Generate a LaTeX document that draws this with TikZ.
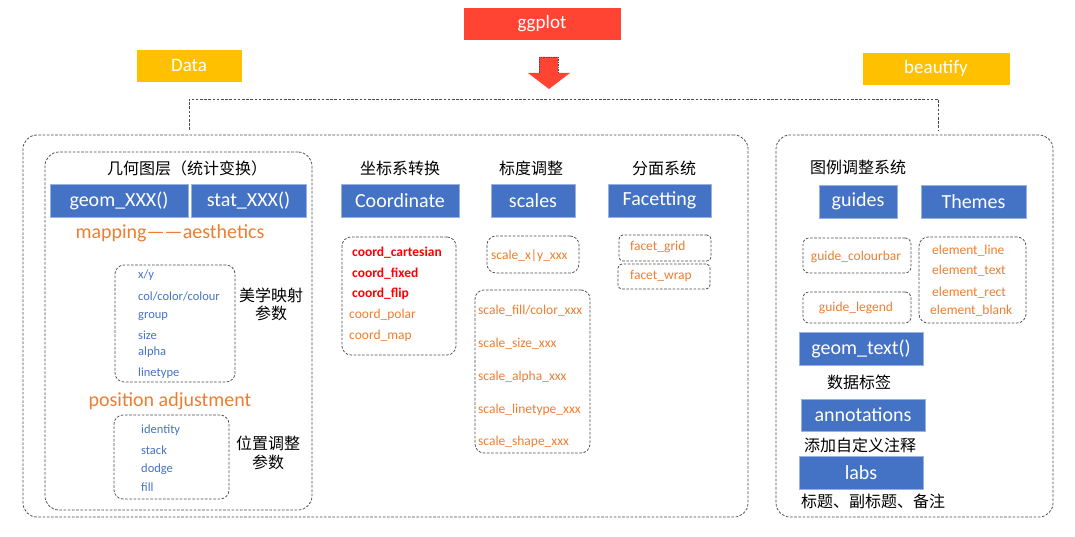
\documentclass[tikz,border=0pt]{standalone}
\usepackage{fontspec}
\setmainfont{Carlito}
\newfontfamily\cjk{Noto Sans CJK SC}
\definecolor{bblue}{HTML}{4472C4}
\definecolor{oran}{HTML}{ED7D31}
\definecolor{ggred}{HTML}{FF4433}
\definecolor{gold}{HTML}{FFC000}
\definecolor{dashc}{HTML}{4A4A4A}
\begin{document}
\begin{tikzpicture}[x=1pt,y=-1pt,
  bluebox/.style={fill=bblue, draw=bblue!55!white, line width=0.6pt, text=white, inner sep=0pt, font=\fontsize{20}{24}\selectfont},
  topbox/.style={inner sep=0pt, text=white, font=\fontsize{19}{22}\selectfont, draw=white, line width=0.6pt},
  dbox/.style={draw=dashc, dash pattern=on 2.6pt off 1.6pt, line width=0.75pt, rounded corners=#1, inner sep=0pt},
  dbox/.default=9pt,
  bracket/.style={draw=dashc, dash pattern=on 2.6pt off 1.6pt, line width=0.75pt},
  zh/.style={inner sep=0pt, font=\cjk\fontsize{16}{18}\selectfont},
  bigor/.style={inner sep=0pt, text=oran, font=\fontsize{20}{24}\selectfont},
  aes/.style={inner sep=0pt, anchor=west, text=bblue, font=\fontsize{12.5}{14}\selectfont},
  itm/.style={inner sep=0pt, anchor=west, text=oran, font=\fontsize{13.5}{15}\selectfont},
  bitm/.style={inner sep=0pt, anchor=west, text=red, font=\bfseries\fontsize{13.5}{15}\selectfont}]
\useasboundingbox (0,0) rectangle (1075,537);

% top
\node[topbox, fill=ggred, minimum width=158, minimum height=33] (ggplot) at (542,23.5) {ggplot};
\node[topbox, fill=gold, minimum width=106, minimum height=33] (data) at (189,65.5) {Data};
\node[topbox, fill=gold, minimum width=148, minimum height=33] (beautify) at (936,68.5) {beautify};
\fill[ggred] (539,57) -- (558,57) -- (558,73) -- (570,73) -- (549,89) -- (528,73) -- (539,73) -- cycle;
\draw[dashc, dash pattern=on 1.5pt off 1pt, line width=0.5pt] (539,73) -- (539,57) -- (558,57) -- (558,73);

% big boxes
\node[dbox=14pt, minimum width=725, minimum height=382] (leftbig) at (385.5,326) {};
\node[dbox=14pt, minimum width=277, minimum height=382] (rightbig) at (914.5,326) {};
\coordinate (bl) at (189,130);
\coordinate (br) at (938,130);
\draw[bracket] (bl) -- ++(0,-31) -| (br);

% geometry layer
\node[dbox=14pt, minimum width=267, minimum height=358] (geomlayer) at (178.5,331) {};
\node[zh, anchor=west] (geomtitle) at (107,168) {几何图层（统计变换）};
\node[bluebox, minimum width=138, minimum height=33] (geom) at (119,200.5) {geom\_XXX()};
\node[bluebox, minimum width=115, minimum height=33] (stat) at (248.5,200.5) {stat\_XXX()};
\node[bigor] (mapping) at (170,233) {mapping——aesthetics};
\node[dbox, minimum width=120, minimum height=117] (aesbox) at (175,323.5) {};
\node[aes] (a1) at (138,275) {x/y};
\node[aes] (a2) at (138,296) {col/color/colour};
\node[aes] (a3) at (138,317) {group};
\node[aes] (a4) at (138,335) {size};
\node[aes] (a5) at (138,352) {alpha};
\node[aes] (a6) at (138,373) {linetype};
\node[zh] (aeszh1) at (271,295) {美学映射};
\node[zh] (aeszh2) at (271,313) {参数};
\node[bigor] (position) at (170,401) {position adjustment};
\node[dbox, minimum width=115, minimum height=84] (posbox) at (171.5,457) {};
\node[aes] (p1) at (141,430) {identity};
\node[aes] (p2) at (141,450) {stack};
\node[aes] (p3) at (141,469) {dodge};
\node[aes] (p4) at (141,487) {fill};
\node[zh] (poszh1) at (268,443) {位置调整};
\node[zh] (poszh2) at (268,462) {参数};

% coordinate
\node[zh] (coordzh) at (400,168) {坐标系转换};
\node[bluebox, minimum width=118, minimum height=33] (coord) at (400,200.5) {Coordinate};
\node[dbox, minimum width=114, minimum height=118] (coordbox) at (399,296) {};
\node[bitm] (c1) at (352,253) {coord\_cartesian};
\node[bitm] (c2) at (352,274) {coord\_fixed};
\node[bitm] (c3) at (352,294) {coord\_flip};
\node[itm] (c4) at (349,315) {coord\_polar};
\node[itm] (c5) at (349,336) {coord\_map};

% scales
\node[zh] (scalezh) at (531,168) {标度调整};
\node[bluebox, minimum width=84, minimum height=33] (scales) at (533,200.5) {scales};
\node[dbox, minimum width=92, minimum height=37] (sxybox) at (533,254.5) {};
\node[itm] (sxy) at (491,256) {scale\_x|y\_xxx};
\node[dbox, minimum width=115, minimum height=163] (slistbox) at (532.5,371.5) {};
\node[itm] (s1) at (478,311) {scale\_fill/color\_xxx};
\node[itm] (s2) at (478,344) {scale\_size\_xxx};
\node[itm] (s3) at (478,377) {scale\_alpha\_xxx};
\node[itm] (s4) at (478,410) {scale\_linetype\_xxx};
\node[itm] (s5) at (478,442) {scale\_shape\_xxx};

% facetting
\node[zh] (facetzh) at (664,168) {分面系统};
\node[bluebox, minimum width=103, minimum height=33] (facet) at (659.5,200.5) {Facetting};
\node[dbox=4pt, minimum width=92, minimum height=26] (fgridbox) at (665,248) {};
\node[itm] (fgrid) at (630,247) {facet\_grid};
\node[dbox=4pt, minimum width=92, minimum height=25] (fwrapbox) at (664,276.5) {};
\node[itm] (fwrap) at (630,276) {facet\_wrap};

% right panel
\node[zh, anchor=west] (legendzh) at (810,167) {图例调整系统};
\node[bluebox, minimum width=78, minimum height=33] (guides) at (858,201.5) {guides};
\node[bluebox, minimum width=105, minimum height=33] (themes) at (973.5,201.5) {Themes};
\node[dbox=6pt, minimum width=108, minimum height=35] (gcbox) at (857,255.5) {};
\node[itm, anchor=center] (gc) at (856,257) {guide\_colourbar};
\node[dbox=6pt, minimum width=108, minimum height=31] (glbox) at (857,307.5) {};
\node[itm, anchor=center] (gl) at (856,308) {guide\_legend};
\node[dbox, minimum width=107, minimum height=86] (elbox) at (972.5,280) {};
\node[itm] (e1) at (932,251) {element\_line};
\node[itm] (e2) at (932,271) {element\_text};
\node[itm] (e3) at (932,293) {element\_rect};
\node[itm] (e4) at (930,311) {element\_blank};
\node[bluebox, minimum width=124, minimum height=33] (geomtext) at (861,348.5) {geom\_text()};
\node[zh] (gtzh) at (859,382) {数据标签};
\node[bluebox, minimum width=124, minimum height=32] (annot) at (863,415) {annotations};
\node[zh] (anzh) at (860,445) {添加自定义注释};
\node[bluebox, minimum width=124, minimum height=33] (labs) at (861,472.5) {labs};
\node[zh, anchor=west] (labszh) at (801,501) {标题、副标题、备注};
\end{tikzpicture}
\end{document}
